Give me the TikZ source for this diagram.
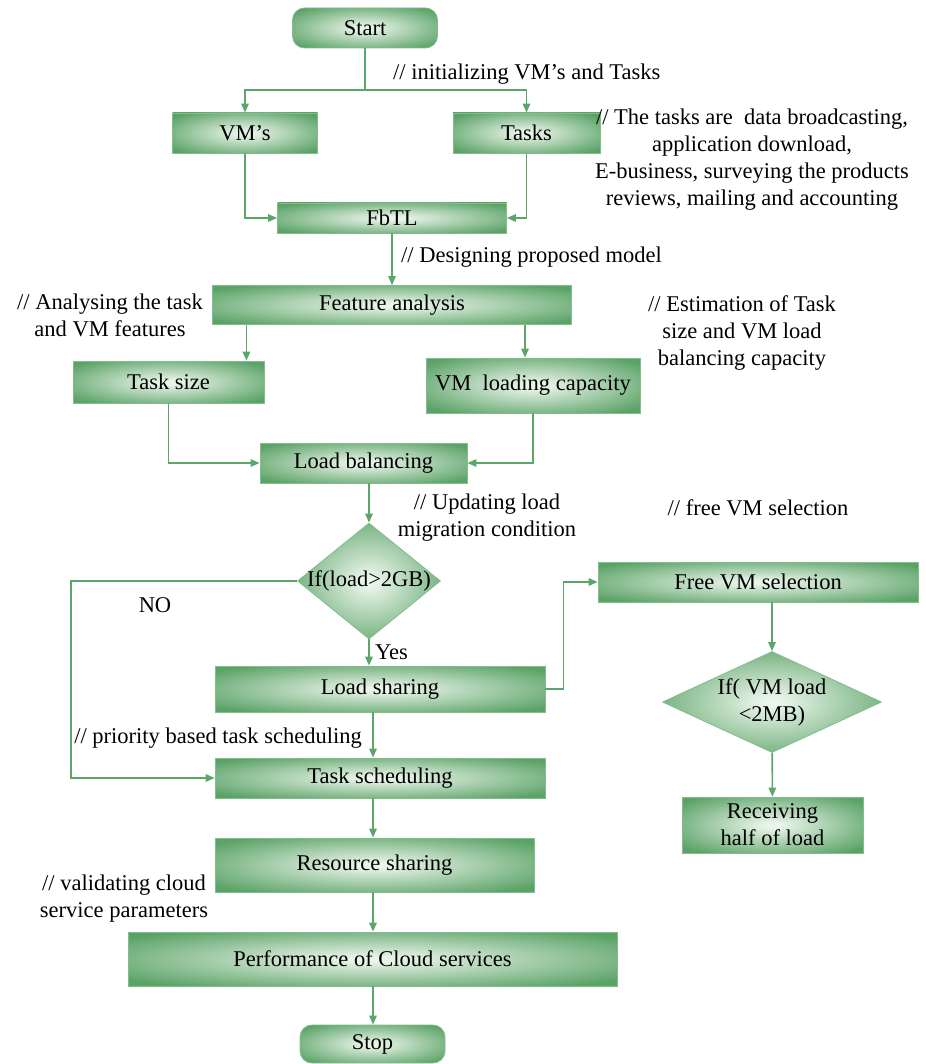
\documentclass[tikz,border=0pt]{standalone}
\usepackage{fontspec}
\setmainfont{Liberation Serif}
\newfontfamily\flowface{Liberation Serif}
\usetikzlibrary{arrows.meta,shapes.geometric}
\definecolor{glowin}{RGB}{234,245,234}
\definecolor{glowout}{RGB}{90,162,102}
\definecolor{rim}{RGB}{130,190,140}
\definecolor{wirecol}{RGB}{92,166,106}
\pgfdeclareradialshading{glow}{\pgfpoint{0bp}{0bp}}{color(0bp)=(glowin); color(2bp)=(glowin); color(32bp)=(glowout); color(75bp)=(glowout)}
\begin{document}
\begin{tikzpicture}[x=1pt,y=-1pt,
  every node/.style={font=\flowface\fontsize{22.5}{27}\selectfont},
  box/.style={draw=rim, line width=0.8pt, shading=glow, rectangle, inner sep=0pt, align=center},
  term/.style={box, rounded corners=12pt},
  dia/.style={draw=rim, line width=0.8pt, shading=glow, diamond, inner sep=0pt},
  link/.style={draw=wirecol, line width=1.6pt},
  arr/.style={link, -{Triangle[length=9pt,width=7.5pt]}},
  note/.style={align=center, inner sep=0pt}]
\fill[white] (0,0) rectangle (925,1064);
\useasboundingbox (0,0) rectangle (925,1064);

% process boxes
\node[term, minimum width=145, minimum height=40] (start) at (365,28) {Start};
\node[box, minimum width=145, minimum height=40] (vms) at (245,133) {VM’s};
\node[box, minimum width=147, minimum height=40] (tasks) at (526.5,133) {Tasks};
\node[box, minimum width=229, minimum height=30] (fbtl) at (392,218) {FbTL};
\node[box, minimum width=359, minimum height=39] (feat) at (392,305) {Feature analysis};
\node[box, minimum width=191, minimum height=42] (tsz) at (168.5,382) {Task size};
\node[box, minimum width=214, minimum height=55] (vml) at (533,385.5) {VM~ loading capacity};
\node[box, minimum width=207, minimum height=40] (lb) at (363.5,463) {Load balancing};
\node[dia, minimum width=143, minimum height=116] (d1) at (369,581) {};
\node[inner sep=0pt] (d1t) at (d1) {If(load>2GB)};
\node[box, minimum width=330, minimum height=46] (ls) at (380,689) {Load sharing};
\node[box, minimum width=320, minimum height=40] (fvm) at (758,582) {Free VM selection};
\node[dia, minimum width=219, minimum height=101] (d2) at (772,702) {};
\node[inner sep=0pt, align=center] (d2t) at (d2) {If( VM load\\<2MB)};
\node[box, minimum width=181, minimum height=56] (rcv) at (772.5,825) {Receiving\\half of load};
\node[box, minimum width=330, minimum height=40] (ts) at (380,778) {Task scheduling};
\node[box, minimum width=319, minimum height=54] (rs) at (374.5,865) {Resource sharing};
\node[box, minimum width=489, minimum height=54] (perf) at (372.5,959) {Performance of Cloud services};
\node[term, minimum width=145, minimum height=38] (stop) at (372.5,1044) {Stop};

% comments and branch labels
\node[note, anchor=west] (cinit) at (393,74) {// initializing VM’s and Tasks};
\node[note] (ctasks) at (752,160) {// The tasks are~ data broadcasting,\\application download,\\E-business, surveying the products\\reviews, mailing and accounting};
\node[note, anchor=west] (cdesign) at (401,257) {// Designing proposed model};
\node[note] (canalyse) at (110,315) {// Analysing the task\\and VM features};
\node[note] (cestim) at (742,333) {// Estimation of Task\\size and VM load\\balancing capacity};
\node[note] (cupdate) at (487,518) {// Updating load\\migration condition};
\node[note] (cfree) at (758,508) {// free VM selection};
\node[note] (cprio) at (218,738) {// priority based task scheduling};
\node[note] (cvalid) at (124,899) {// validating cloud\\service parameters};
\node[note] (lno) at (155,605) {NO};
\node[note, anchor=west] (lyes) at (375,652) {Yes};

% connectors
\coordinate (split) at (365,90);
\coordinate (tszin) at ([xshift=-18pt]tsz.north east);
\coordinate (vmlin) at ([xshift=-8pt]vml.north);
\coordinate (noturn) at (71,581);
\coordinate (spine) at (373,0);

\draw[link] (start) -- (split);
\draw[arr] (split) -| (vms);
\draw[arr] (split) -| (tasks);
\draw[arr] (vms) |- (fbtl);
\draw[arr] (tasks) |- (fbtl);
\draw[arr] (fbtl) -- (feat);
\draw[arr] (tszin |- feat.south) -- (tszin);
\draw[arr] (vmlin |- feat.south) -- (vmlin);
\draw[arr] (tsz) |- (lb);
\draw[arr] (vml) |- (lb);
\draw[arr] (lb.south -| d1) -- (d1);
\draw[arr] (d1) -- (ls.north -| d1);
\draw[arr] (d1.west) -- (noturn) |- (ts);
\draw[arr] (ls.east) -- ++(18,0) |- (fvm);
\draw[arr] (fvm.south -| d2) -- (d2);
\draw[arr] (d2) -- (rcv);
\draw[arr] (ls.south -| spine) -- (ts.north -| spine);
\draw[arr] (ts.south -| spine) -- (rs.north -| spine);
\draw[arr] (rs.south -| spine) -- (perf.north -| spine);
\draw[arr] (perf.south -| spine) -- (stop.north -| spine);
\end{tikzpicture}
\end{document}
